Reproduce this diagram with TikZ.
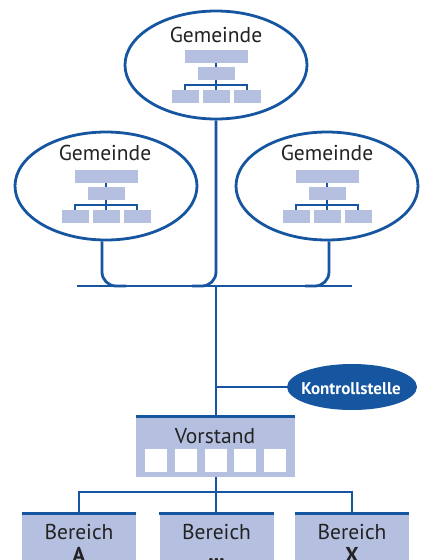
\documentclass[tikz,border=0pt]{standalone}
\usepackage{fontspec}
\setmainfont{PT Sans}
\usetikzlibrary{shapes.geometric}
\definecolor{orgblue}{RGB}{22,86,160}
\definecolor{orglav}{RGB}{181,191,223}
\definecolor{txtgray}{RGB}{35,35,35}
\tikzstyle{gemeinde} = [ellipse, draw=orgblue, line width=2.8pt, fill=white, minimum width=182pt, minimum height=108pt, inner sep=0pt]
\tikzstyle{kontrolle} = [ellipse, fill=orgblue, minimum width=130pt, minimum height=46pt, inner sep=0pt]
\tikzstyle{panel} = [rectangle, fill=orglav, inner sep=0pt]
\tikzstyle{orgbox} = [rectangle, fill=orglav, minimum height=13pt, inner sep=0pt]
\tikzstyle{seat} = [rectangle, fill=white, minimum width=22pt, minimum height=23pt, inner sep=0pt]
\tikzstyle{heading} = [text=txtgray, font=\fontsize{21.5}{25}\selectfont, inner sep=0pt, anchor=base]
\tikzstyle{line} = [draw=orgblue, line width=2.8pt, rounded corners=14pt]
\tikzstyle{thinline} = [draw=orgblue, line width=1.1pt]
\tikzstyle{topedge} = [draw=orgblue, line width=3pt]
\tikzset{orgchart/.pic={
  \node (-top) [orgbox, minimum width=63pt] at (0,-9) {};
  \node (-mid) [orgbox, minimum width=37pt] at (0,8.5) {};
  \node (-b1) [orgbox, minimum width=27pt] at (-31,31.5) {};
  \node (-b2) [orgbox, minimum width=27pt] at (0,31.5) {};
  \node (-b3) [orgbox, minimum width=27pt] at (31,31.5) {};
  \draw [thinline] (-top) -- (-mid);
  \draw [thinline] (-mid) -- (-b2);
  \draw [thinline] (-b1.north) |- (0,20) -| (-b3.north);
}}

\begin{document}
\begin{tikzpicture}[x=1pt, y=-1pt]
\clip (0,0) rectangle (425,560);

% Gemeinden
\node (gemT) [gemeinde] at (216,65) {};
\node (gemL) [gemeinde] at (106,186) {};
\node (gemR) [gemeinde] at (327,186) {};
\node (gemTt) [heading] at (216,42) {Gemeinde};
\node (gemLt) [heading] at (105,160) {Gemeinde};
\node (gemRt) [heading] at (327,160) {Gemeinde};
\pic (orgT) at (216,65) {orgchart};
\pic (orgL) at (106,185) {orgchart};
\pic (orgR) at (327,185) {orgchart};

% Sammelleitung
\coordinate (busL) at (77,286);
\coordinate (busR) at (352,286);
\draw [line] (busL) -- (busR);
\draw [line] ([xshift=-4pt]gemL.south) -- ([xshift=-4pt]gemL.south |- busL) -- ++(24,0);
\draw [line] (gemT.south) -- (gemT.south |- busL) -- ++(-24,0);
\draw [line] ([xshift=2pt]gemR.south) -- ([xshift=2pt]gemR.south |- busL) -- ++(-24,0);

% Vorstand
\node (vorstand) [panel, minimum width=159pt, minimum height=60pt] at (215.5,447) {};
\draw [topedge] (vorstand.north west) -- (vorstand.north east);
\node (vorstandt) [heading] at (215,443) {Vorstand};
\foreach \i/\x in {1/156,2/186,3/216,4/245,5/275}
  \node (seat\i) [seat] at (\x,460.5) {};
\draw [line] (gemT.south |- busL) -- (vorstand.north -| gemT.south);

% Kontrollstelle
\node (kontr) [kontrolle] at (352,387) {};
\node (kontrt) [heading, text=white, font=\fontsize{17}{20}\selectfont\bfseries] at (351,394) {Kontrollstelle};
\draw [line] (kontr.west) -- (kontr.west -| gemT.south);

% Bereiche
\node (bA) [panel, minimum width=114pt, minimum height=60pt] at (79,544) {};
\node (bM) [panel, minimum width=114pt, minimum height=60pt] at (216.5,544) {};
\node (bX) [panel, minimum width=114pt, minimum height=60pt] at (352,544) {};
\foreach \b in {bA,bM,bX}
  \draw [topedge] (\b.north west) -- (\b.north east);
\node (bAt) [heading] at (79,539) {Bereich};
\node (bMt) [heading] at (216.5,539) {Bereich};
\node (bXt) [heading] at (352,539) {Bereich};
\node (bAl) [heading, font=\fontsize{21.5}{25}\selectfont\bfseries] at (79,562) {A};
\node (bMl) [heading, font=\fontsize{21.5}{25}\selectfont\bfseries] at (216.5,561) {...};
\node (bXl) [heading, font=\fontsize{21.5}{25}\selectfont\bfseries] at (352,562) {X};

\coordinate (split) at (216,492);
\draw [line, rounded corners=0pt] (vorstand.south -| split) -- (split);
\draw [line, rounded corners=0pt] (bA.north) |- (split) -| (bX.north);
\draw [line, rounded corners=0pt] (split) -- (bM.north -| split);
\end{tikzpicture}
\end{document}
